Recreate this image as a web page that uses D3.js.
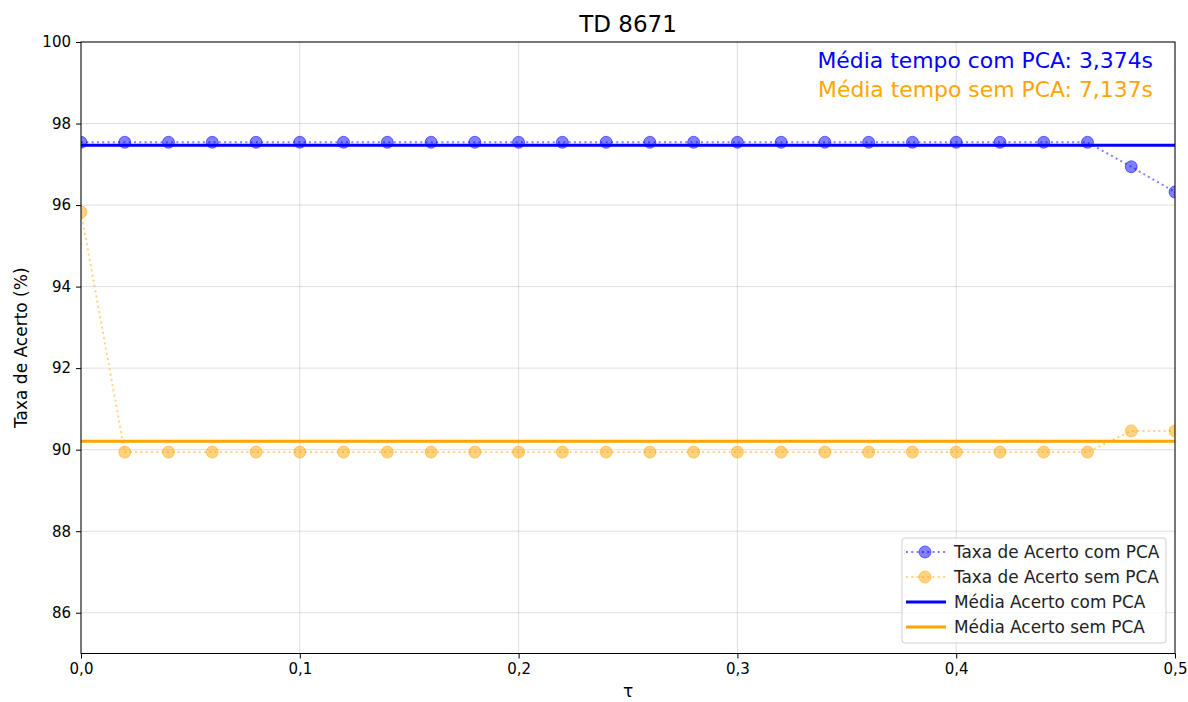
<!DOCTYPE html>
<html>
<head>
<meta charset="utf-8">
<script src="https://cdn.jsdelivr.net/npm/d3@7"></script>
<style>
body { margin: 0; background: #fff; }
text { font-family: "DejaVu Sans", sans-serif; }
</style>
</head>
<body>
<div id="chart"></div>
<script>
var taus = [0, 0.02, 0.04, 0.06, 0.08, 0.1, 0.12, 0.14, 0.16, 0.18, 0.2, 0.22, 0.24, 0.26,
            0.28, 0.3, 0.32, 0.34, 0.36, 0.38, 0.4, 0.42, 0.44, 0.46, 0.48, 0.5];
var comPCA = [97.54, 97.54, 97.54, 97.54, 97.54, 97.54, 97.54, 97.54, 97.54, 97.54, 97.54, 97.54, 97.54,
              97.54, 97.54, 97.54, 97.54, 97.54, 97.54, 97.54, 97.54, 97.54, 97.54, 97.54, 96.94, 96.32];
var semPCA = [95.83, 89.94, 89.94, 89.94, 89.94, 89.94, 89.94, 89.94, 89.94, 89.94, 89.94, 89.94, 89.94,
              89.94, 89.94, 89.94, 89.94, 89.94, 89.94, 89.94, 89.94, 89.94, 89.94, 89.94, 90.46, 90.46];
var xTicks = [0, 0.1, 0.2, 0.3, 0.4, 0.5];
var yTicks = [86, 88, 90, 92, 94, 96, 98, 100];
var tempoCom = "3,374", tempoSem = "7,137";

var W = 1188, H = 702,
    margin = {top: 42, right: 13, bottom: 48.5, left: 81};
var iw = W - margin.left - margin.right, ih = H - margin.top - margin.bottom;

var svg = d3.select("#chart").append("svg").attr("width", W).attr("height", H);
var g = svg.append("g").attr("transform", "translate(" + margin.left + "," + margin.top + ")");

var x = d3.scaleLinear().domain([0, 0.5]).range([0, iw]);
var y = d3.scaleLinear().domain([85, 100]).range([ih, 0]);
var fmt = function (d) { return d3.format(".1f")(d).replace(".", ","); };

var mediaCom = d3.mean(comPCA), mediaSem = d3.mean(semPCA);
var blue = "#0000ff", orange = "#ffa500";

// grid
g.append("g").selectAll("line").data(xTicks).enter().append("line")
  .attr("x1", x).attr("x2", x).attr("y1", 0).attr("y2", ih)
  .attr("stroke", "#b0b0b0").attr("stroke-opacity", 0.5).attr("stroke-width", 0.8);
g.append("g").selectAll("line").data(yTicks).enter().append("line")
  .attr("y1", y).attr("y2", y).attr("x1", 0).attr("x2", iw)
  .attr("stroke", "#b0b0b0").attr("stroke-opacity", 0.5).attr("stroke-width", 0.8);

svg.append("clipPath").attr("id", "clip").append("rect")
  .attr("x", 0).attr("y", 0).attr("width", iw).attr("height", ih);
var plot = g.append("g").attr("clip-path", "url(#clip)");

var line = d3.line().x(function (d) { return x(d[0]); }).y(function (d) { return y(d[1]); });

function series(vals, color) {
  var pts = taus.map(function (t, i) { return [t, vals[i]]; });
  plot.append("path").datum(pts).attr("d", line).attr("fill", "none")
    .attr("stroke", color).attr("stroke-opacity", 0.5).attr("stroke-width", 2)
    .attr("stroke-dasharray", "2,3.3");
  plot.append("g").selectAll("circle").data(pts).enter().append("circle")
    .attr("cx", function (d) { return x(d[0]); }).attr("cy", function (d) { return y(d[1]); })
    .attr("r", 6).attr("fill", color).attr("fill-opacity", 0.5)
    .attr("stroke", color).attr("stroke-opacity", 0.5).attr("stroke-width", 1);
}
series(comPCA, blue);
series(semPCA, orange);

plot.append("line").attr("x1", 0).attr("x2", iw).attr("y1", y(mediaCom)).attr("y2", y(mediaCom))
  .attr("stroke", blue).attr("stroke-width", 3);
plot.append("line").attr("x1", 0).attr("x2", iw).attr("y1", y(mediaSem)).attr("y2", y(mediaSem))
  .attr("stroke", orange).attr("stroke-width", 3);

// frame
g.append("rect").attr("width", iw).attr("height", ih).attr("fill", "none")
  .attr("stroke", "#000").attr("stroke-width", 1);

// axes
var xa = g.append("g").attr("transform", "translate(0," + ih + ")")
  .call(d3.axisBottom(x).tickValues(xTicks).tickFormat(fmt).tickSize(5).tickPadding(5));
var ya = g.append("g")
  .call(d3.axisLeft(y).tickValues(yTicks).tickSize(5).tickPadding(5));
[xa, ya].forEach(function (a) {
  a.select(".domain").remove();
  a.selectAll("text").attr("font-size", 15).attr("fill", "#000")
    .attr("font-family", "DejaVu Sans, sans-serif");
  a.selectAll("line").attr("stroke", "#000");
});

// labels
svg.append("text").attr("x", margin.left + iw / 2).attr("y", 32).attr("text-anchor", "middle")
  .attr("font-size", 23).text("TD 8671");
svg.append("text").attr("x", margin.left + iw / 2).attr("y", 697).attr("text-anchor", "middle")
  .attr("font-size", 17).text("τ");
svg.append("text").attr("transform", "translate(27," + (margin.top + ih / 2) + ") rotate(-90)")
  .attr("text-anchor", "middle").attr("font-size", 17).text("Taxa de Acerto (%)");

g.append("text").attr("x", iw - 22).attr("y", 26).attr("text-anchor", "end")
  .attr("font-size", 21.9).attr("fill", blue).text("Média tempo com PCA: " + tempoCom + "s");
g.append("text").attr("x", iw - 22).attr("y", 55).attr("text-anchor", "end")
  .attr("font-size", 21.9).attr("fill", orange).text("Média tempo sem PCA: " + tempoSem + "s");

// legend
var legItems = [
  {label: "Taxa de Acerto com PCA", color: blue, type: "pt"},
  {label: "Taxa de Acerto sem PCA", color: orange, type: "pt"},
  {label: "Média Acerto com PCA", color: blue, type: "ln"},
  {label: "Média Acerto sem PCA", color: orange, type: "ln"}
];
var leg = g.append("g").attr("transform", "translate(" + (902 - margin.left) + "," + (538 - margin.top) + ")");
leg.append("rect").attr("width", 264).attr("height", 105).attr("rx", 3)
  .attr("fill", "#fff").attr("fill-opacity", 0.8).attr("stroke", "#d0d0d0");
var li = leg.selectAll("g.it").data(legItems).enter().append("g")
  .attr("transform", function (d, i) { return "translate(0," + (14 + i * 25) + ")"; });
li.append("line").attr("x1", 4).attr("x2", 44).attr("y1", 0).attr("y2", 0)
  .attr("stroke", function (d) { return d.color; })
  .attr("stroke-opacity", function (d) { return d.type === "pt" ? 0.5 : 1; })
  .attr("stroke-width", function (d) { return d.type === "pt" ? 2 : 3; })
  .attr("stroke-dasharray", function (d) { return d.type === "pt" ? "2,3.3" : null; });
li.filter(function (d) { return d.type === "pt"; }).append("circle")
  .attr("cx", 23).attr("cy", 0).attr("r", 6)
  .attr("fill", function (d) { return d.color; }).attr("fill-opacity", 0.5)
  .attr("stroke", function (d) { return d.color; }).attr("stroke-opacity", 0.5);
li.append("text").attr("x", 52).attr("y", 6).attr("font-size", 16.9).attr("fill", "#222")
  .text(function (d) { return d.label; });
</script>
</body>
</html>
